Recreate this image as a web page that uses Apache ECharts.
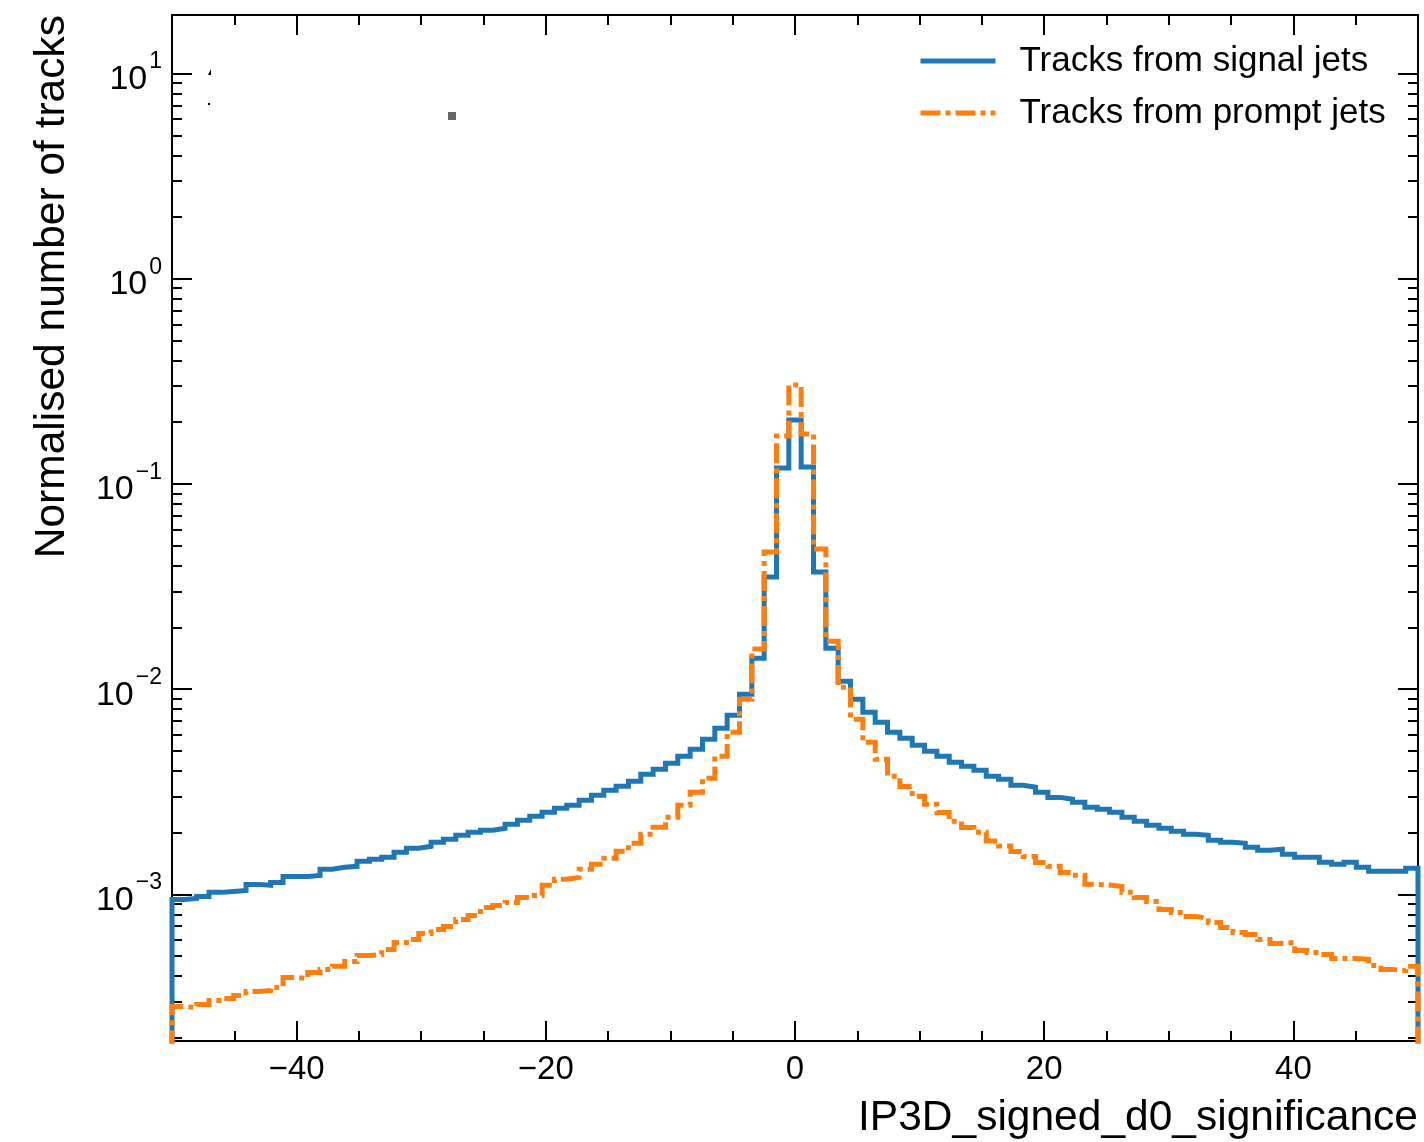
<!DOCTYPE html>
<html>
<head>
<meta charset="utf-8">
<title>IP3D signed d0 significance</title>
<script src="https://cdn.jsdelivr.net/npm/echarts@6/dist/echarts.min.js"></script>
<style>
  html, body { margin: 0; padding: 0; background: #fff; }
  #chart { width: 1424px; height: 1142px; }
</style>
</head>
<body>
<div id="chart"></div>
<script>
// histogram binning: 101 bins over [-50, 50]
var xMin = -50
var xMax = 50
var nBins = 101

var seriesNames = ['Tracks from signal jets', 'Tracks from prompt jets']

// normalised counts per bin, left to right
var signalJets = [
  0.000945, 0.000956, 0.000978, 0.001023, 0.001034, 0.001046, 0.001119, 0.001107, 0.001144, 0.001224,
  0.001224, 0.001238, 0.001325, 0.001355, 0.001370, 0.001449, 0.001482, 0.001516, 0.001603, 0.001677,
  0.001715, 0.001794, 0.001856, 0.001941, 0.002008, 0.002054, 0.002100, 0.002197, 0.002298, 0.002404,
  0.002514, 0.002630, 0.002717, 0.002875, 0.003041, 0.003216, 0.003364, 0.003558, 0.003849, 0.004072,
  0.004355, 0.004711, 0.005097, 0.005703, 0.006454, 0.007467, 0.009454, 0.01417, 0.0352, 0.1197,
  0.205,
  0.121, 0.0372, 0.01585, 0.01094, 0.00894, 0.00772, 0.00690, 0.00617, 0.00577, 0.00533,
  0.00498, 0.00471, 0.00440, 0.00421, 0.00403, 0.00376, 0.00364, 0.00340, 0.00333, 0.00315,
  0.00297, 0.00291, 0.00281, 0.00266, 0.00260, 0.002514, 0.002377, 0.002272, 0.002172, 0.002100,
  0.002030, 0.001963, 0.001941, 0.001835, 0.001794, 0.001774, 0.001696, 0.001640, 0.001659, 0.001568,
  0.001516, 0.001516, 0.001433, 0.001401, 0.001433, 0.001355, 0.001295, 0.001295, 0.001295, 0.001340
]
var promptJets = [
  0.000284, 0.000281, 0.000291, 0.000304, 0.000311, 0.000322, 0.000336, 0.000340, 0.000352, 0.000394,
  0.000389, 0.000416, 0.000430, 0.000446, 0.000471, 0.000504, 0.000509, 0.000539, 0.000583, 0.000603,
  0.000645, 0.000675, 0.000698, 0.000755, 0.000790, 0.000864, 0.000884, 0.000914, 0.000967, 0.000989,
  0.001107, 0.001184, 0.001210, 0.001325, 0.001401, 0.001499, 0.001621, 0.001774, 0.001963, 0.002124,
  0.002377, 0.002717, 0.003145, 0.003680, 0.004711, 0.006170, 0.008938, 0.01568, 0.0466, 0.1715,
  0.304,
  0.1754, 0.0482, 0.01715, 0.01023, 0.00714, 0.00551, 0.00456, 0.00376, 0.00336, 0.00301,
  0.00275, 0.00251, 0.00227, 0.00212, 0.00201, 0.00182, 0.00172, 0.00162, 0.00153, 0.00143,
  0.00137, 0.00128, 0.00124, 0.00112, 0.00111, 0.001094, 0.001023, 0.000967, 0.000924, 0.000845,
  0.000817, 0.000781, 0.000764, 0.000730, 0.000690, 0.000653, 0.000638, 0.000603, 0.000577, 0.000583,
  0.000533, 0.000521, 0.000509, 0.000487, 0.000487, 0.000482, 0.000450, 0.000430, 0.000426, 0.000446
]

var xMajorTicks = [-40, -20, 0, 20, 40]
var xMinorTicks = [-45, -35, -30, -25, -15, -10, -5, 5, 10, 15, 25, 30, 35, 45]
var yMajorTicks = [0.001, 0.01, 0.1, 1, 10]
var yMin = 1.93e-4
var yMax = 19.3

var yMinorTicks = []
;[1e-4, 1e-3, 1e-2, 1e-1, 1].forEach(function(dec) {
  for (var m = 2; m <= 9; m++) {
    var v = +(m * dec).toPrecision(3)
    if (v > yMin && v < yMax) yMinorTicks.push(v)
  }
})

var font = '"Liberation Sans", Arial, Helvetica, sans-serif'
var blue = '#1f77b4'
var orange = '#ff7f0e'

// step outline like a histtype='step' histogram, dropping to the floor at both ends
function stepPoints(values) {
  var w = (xMax - xMin) / nBins
  var pts = [[xMin, 1e-7]]
  for (var i = 0; i < values.length; i++) {
    pts.push([xMin + i * w, values[i]])
    pts.push([xMin + (i + 1) * w, values[i]])
  }
  pts.push([xMax, 1e-7])
  return pts
}

function minusSign(v) {
  return String(v).replace('-', '\u2212')
}

function xAxisDef(position, ticks, len, withLabels) {
  return {
    type: 'value',
    min: xMin,
    max: xMax,
    position: position,
    axisLine: { show: false, onZero: false },
    splitLine: { show: false },
    axisTick: {
      show: true,
      inside: true,
      length: len,
      customValues: ticks,
      lineStyle: { color: '#000', width: 2 }
    },
    axisLabel: {
      show: withLabels,
      customValues: ticks,
      margin: 12,
      color: '#000',
      fontSize: 33,
      fontFamily: font,
      formatter: function(v) { return minusSign(v) }
    }
  }
}

function yAxisDef(position, ticks, len, withLabels) {
  return {
    type: 'log',
    logBase: 10,
    min: yMin,
    max: yMax,
    position: position,
    axisLine: { show: false, onZero: false },
    splitLine: { show: false },
    minorTick: { show: false },
    axisTick: {
      show: true,
      inside: true,
      length: len,
      customValues: ticks,
      lineStyle: { color: '#000', width: 2 }
    },
    axisLabel: {
      show: withLabels,
      customValues: ticks,
      margin: 10,
      formatter: function(v) {
        var n = Math.round(Math.log10(v))
        return '{b|10}{s|' + minusSign(n) + '}'
      },
      rich: {
        b: { fontSize: 34, fontFamily: font, color: '#000', verticalAlign: 'bottom', padding: [12, 2, 0, 0] },
        s: { fontSize: 23, fontFamily: font, color: '#000', verticalAlign: 'top' }
      }
    }
  }
}

var chart = echarts.init(document.getElementById('chart'))

chart.setOption({
  animation: false,
  backgroundColor: '#fff',
  grid: {
    left: 172,
    top: 15,
    width: 1246,
    height: 1026,
    show: true,
    borderColor: '#000',
    borderWidth: 2,
    backgroundColor: 'transparent'
  },
  xAxis: [
    xAxisDef('bottom', xMajorTicks, 20, true),
    xAxisDef('bottom', xMinorTicks, 10, false),
    xAxisDef('top', xMajorTicks, 20, false),
    xAxisDef('top', xMinorTicks, 10, false)
  ],
  yAxis: [
    yAxisDef('left', yMajorTicks, 20, true),
    yAxisDef('left', yMinorTicks, 10, false),
    yAxisDef('right', yMajorTicks, 20, false),
    yAxisDef('right', yMinorTicks, 10, false)
  ],
  legend: {
    orient: 'vertical',
    left: 918,
    top: 41,
    padding: 0,
    itemWidth: 75,
    itemHeight: 1,
    itemGap: 12,
    data: seriesNames,
    itemStyle: { opacity: 0 },
    lineStyle: { width: 5 },
    textStyle: {
      color: '#000',
      fontSize: 35,
      fontFamily: font,
      lineHeight: 40,
      padding: [0, 0, 0, 19]
    }
  },
  graphic: [
    {
      type: 'text',
      x: 52,
      y: 15,
      rotation: Math.PI / 2,
      style: {
        text: 'Normalised number of tracks',
        fontSize: 42.5,
        fontFamily: font,
        fill: '#000',
        align: 'right',
        verticalAlign: 'middle'
      }
    },
    {
      type: 'text',
      x: 1418,
      y: 1118,
      style: {
        text: 'IP3D_signed_d0_significance',
        fontSize: 42.5,
        fontFamily: font,
        fill: '#000',
        align: 'right',
        verticalAlign: 'middle'
      }
    },
    // stray marks in the original figure
    { type: 'rect', shape: { x: 448, y: 112, width: 8, height: 8 }, style: { fill: '#666' } },
    { type: 'polygon', shape: { points: [[208, 75], [211, 69], [211, 75]] }, style: { fill: '#000' } },
    { type: 'rect', shape: { x: 208, y: 103, width: 2, height: 2 }, style: { fill: '#000' } }
  ],
  series: [
    {
      name: seriesNames[0],
      type: 'line',
      data: stepPoints(signalJets),
      symbol: 'none',
      clip: true,
      color: blue,
      lineStyle: { color: blue, width: 5, join: 'miter', cap: 'butt' }
    },
    {
      name: seriesNames[1],
      type: 'line',
      data: stepPoints(promptJets),
      symbol: 'none',
      clip: true,
      color: orange,
      lineStyle: { color: orange, width: 5, type: [20, 5, 5, 5], join: 'miter', cap: 'butt' }
    }
  ]
})
</script>
</body>
</html>
